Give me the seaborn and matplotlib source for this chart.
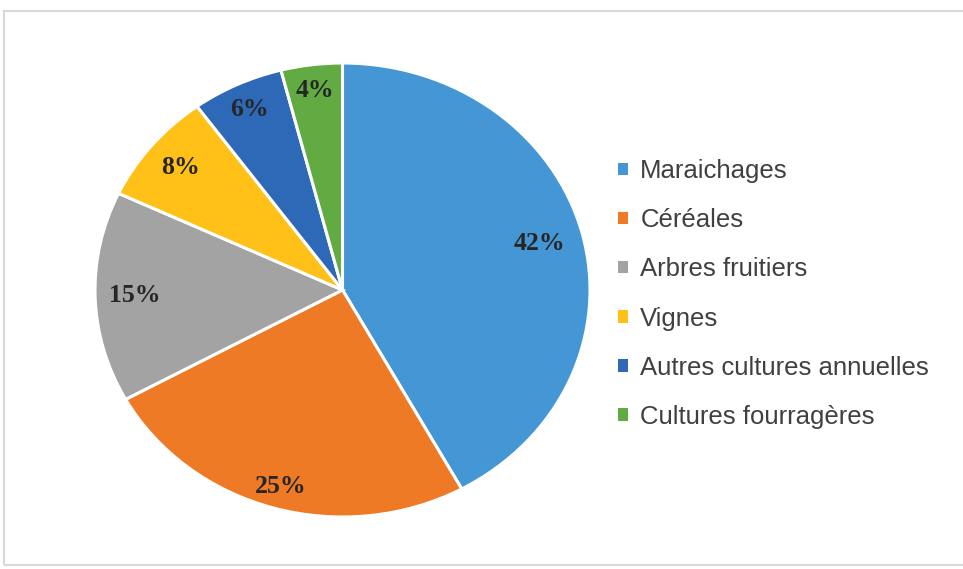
import matplotlib
matplotlib.use("Agg")
import matplotlib.pyplot as plt
from matplotlib.patches import Rectangle
import numpy as np
import seaborn as sns

categories = ["Maraichages", "Céréales", "Arbres fruitiers", "Vignes",
              "Autres cultures annuelles", "Cultures fourragères"]
values = [42, 25, 15, 8, 6, 4]
label_radius = [0.82, 0.90, 0.84, 0.85, 0.88, 0.885]
colors = ["#4596D4", "#EE7A26", "#A3A3A3", "#FFC018", "#2D69B7", "#62AA42"]

sns.set_theme(style="white")
plt.rcParams['font.family'] = ['Liberation Sans', 'DejaVu Sans']

fig = plt.figure(figsize=(9.63, 5.69), dpi=100)
fig.patch.set_facecolor("white")

# outer chart frame
fig.patches.append(Rectangle((4 / 963, 1 - 565 / 569), 1.2, (565 - 11) / 569,
                             transform=fig.transFigure, fill=False,
                             edgecolor="#D6D9DC", linewidth=1.5, zorder=0))

ax = fig.add_axes([95 / 963, (569 - 517) / 569, 495 / 963, 454 / 569])
palette = sns.color_palette(colors)
wedges, _ = ax.pie(values, colors=palette, startangle=90, counterclock=False,
                   wedgeprops=dict(edgecolor="white", linewidth=2.2),
                   radius=1.0)
ax.set_aspect("auto")
ax.set_xlim(-1, 1)
ax.set_ylim(-1, 1)

for w, v, r in zip(wedges, values, label_radius):
    ang = np.deg2rad((w.theta1 + w.theta2) / 2)
    ax.text(r * np.cos(ang), r * np.sin(ang), f"{v}%", ha="center", va="center",
            fontsize=18.5, fontweight="bold", color="#262626",
            family=["Liberation Serif", "DejaVu Serif"])

leg = fig.legend(wedges, categories, loc="upper left",
                 bbox_to_anchor=(618 / 963, 1 - 159 / 569),
                 frameon=False, fontsize=18.5, labelcolor="#404040",
                 handlelength=0.37, handleheight=0.37, handletextpad=0.5,
                 labelspacing=0.98, borderaxespad=0, borderpad=0)
for h in leg.legend_handles:
    h.set_edgecolor("none")

fig.savefig("out.png", dpi=100, facecolor="white")
